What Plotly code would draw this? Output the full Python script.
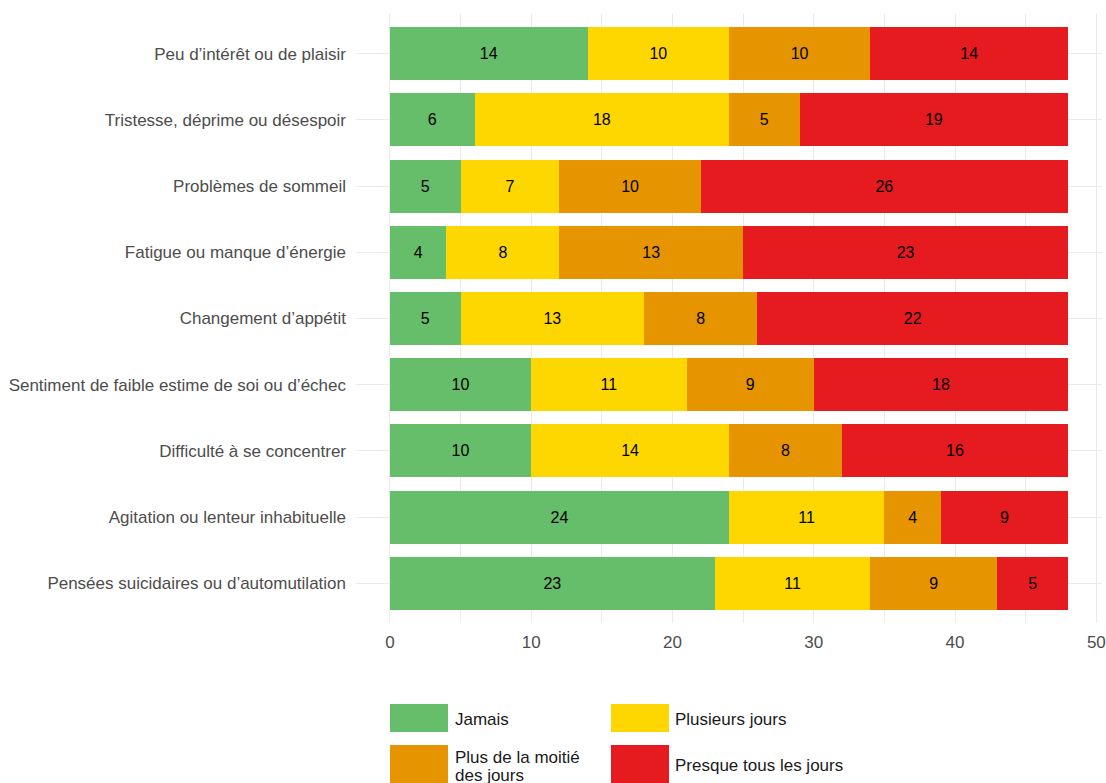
import plotly.graph_objects as go

# Symptom items, top to bottom
items = [
    "Peu d’intérêt ou de plaisir",
    "Tristesse, déprime ou désespoir",
    "Problèmes de sommeil",
    "Fatigue ou manque d’énergie",
    "Changement d’appétit",
    "Sentiment de faible estime de soi ou d’échec",
    "Difficulté à se concentrer",
    "Agitation ou lenteur inhabituelle",
    "Pensées suicidaires ou d’automutilation",
]

# Response counts per frequency level
jamais = [14, 6, 5, 4, 5, 10, 10, 24, 23]
plusieurs_jours = [10, 18, 7, 8, 13, 11, 14, 11, 11]
plus_moitie = [10, 5, 10, 13, 8, 9, 8, 4, 9]
presque_tous = [14, 19, 26, 23, 22, 18, 16, 9, 5]

levels = ["Jamais", "Plusieurs jours", "Plus de la moitié des jours", "Presque tous les jours"]
colors = ["#66BD6A", "#FFD700", "#E69500", "#E51B1F"]
series = [jamais, plusieurs_jours, plus_moitie, presque_tous]

x_ticks = [0, 10, 20, 30, 40, 50]

W, H = 1106, 783
ML, MR, MT, MB = 356, 4, 14, 160
PW, PH = W - ML - MR, H - MT - MB

FONT = "Liberation Sans, Arial, sans-serif"

fig = go.Figure()
for name, vals, col in zip(levels, series, colors):
    fig.add_trace(go.Bar(
        y=items, x=vals, name=name, orientation="h",
        marker=dict(color=col, line=dict(width=0)),
        width=0.8,
        text=vals, texttemplate="%{x}",
        textposition="inside", insidetextanchor="middle", textangle=0,
        textfont=dict(family=FONT, size=16, color="#000000"),
        hoverinfo="x+y+name",
    ))


def px_x(p):
    return (p - ML) / PW


def px_y(p):
    return (H - MB - p) / PH


shapes = []
annotations = []

# Legend drawn as two columns of wide keys below the panel
key_cols = [(390, 448, 453), (611, 669, 673)]
key_rows = [(704, 732), (745, 785)]
legend_entries = [
    (0, 0, colors[0], ["Jamais"], [719]),
    (1, 0, colors[1], ["Plusieurs jours"], [719]),
    (0, 1, colors[2], ["Plus de la moitié", "des jours"], [757, 775]),
    (1, 1, colors[3], ["Presque tous les jours"], [765]),
]
for c, r, col, lines, ys in legend_entries:
    kx0, kx1, tx = key_cols[c]
    ky0, ky1 = key_rows[r]
    shapes.append(dict(
        type="rect", xref="paper", yref="paper",
        x0=px_x(kx0), x1=px_x(kx1), y0=px_y(ky1), y1=px_y(ky0),
        fillcolor=col, line=dict(width=0), layer="above",
    ))
    for line, ty in zip(lines, ys):
        annotations.append(dict(
            xref="paper", yref="paper", x=px_x(tx), y=px_y(ty),
            text=line, showarrow=False, xanchor="left", yanchor="middle",
            font=dict(family=FONT, size=17, color="#1A1A1A"),
        ))

fig.update_layout(
    barmode="stack",
    width=W, height=H,
    margin=dict(l=ML, r=MR, t=MT, b=MB, pad=0, autoexpand=False),
    paper_bgcolor="white", plot_bgcolor="white",
    showlegend=False,
    font=dict(family=FONT, size=17, color="#4D4D4D"),
    shapes=shapes,
    annotations=annotations,
    uniformtext=dict(mode=False),
)

fig.update_xaxes(
    range=[-2.4, 50.4],
    tickvals=x_ticks,
    automargin=False,
    showgrid=True, gridcolor="#EBEBEB", gridwidth=1.3,
    minor=dict(dtick=5, tick0=0, showgrid=True, gridcolor="#EBEBEB", gridwidth=0.7),
    zeroline=False, showline=False, ticks="",
    ticklabelstandoff=7,
    tickfont=dict(family=FONT, size=17, color="#4D4D4D"),
)

fig.update_yaxes(
    type="category",
    categoryorder="array", categoryarray=items,
    range=[len(items) - 0.4, -0.6],
    automargin=False,
    showgrid=True, gridcolor="#EBEBEB", gridwidth=1.3,
    zeroline=False, showline=False, ticks="",
    ticklabelstandoff=9,
    tickfont=dict(family=FONT, size=17, color="#4D4D4D"),
)

fig.write_html("out.html")
